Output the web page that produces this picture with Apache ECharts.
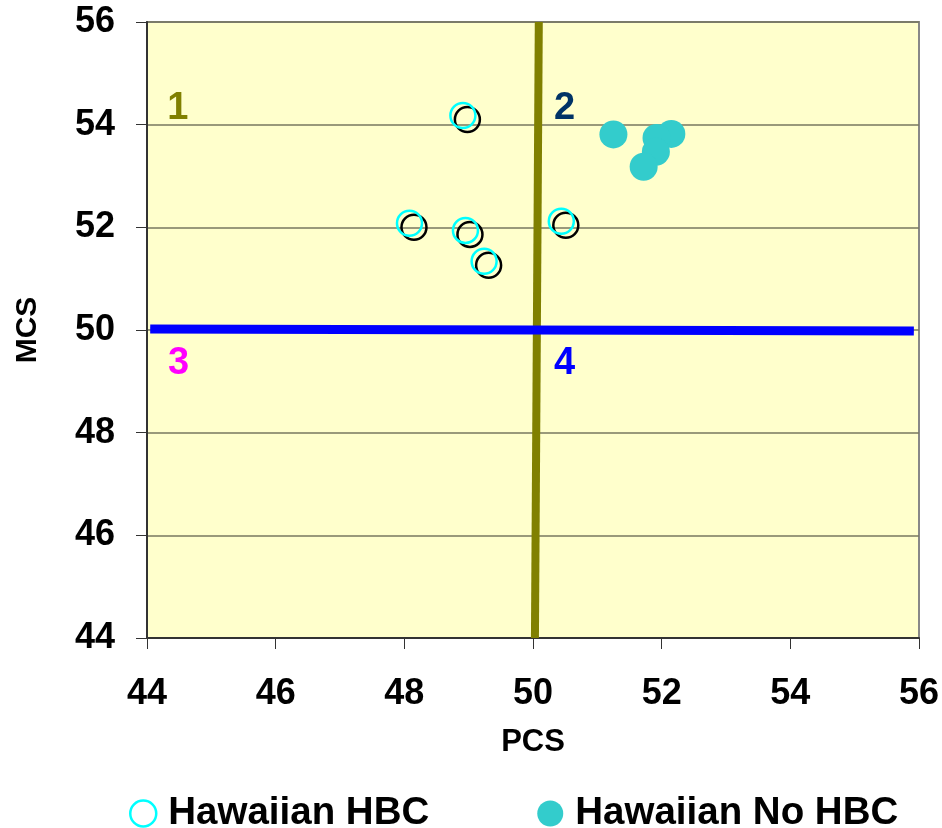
<!DOCTYPE html>
<html>
<head>
<meta charset="utf-8">
<script src="https://cdn.jsdelivr.net/npm/echarts@6/dist/echarts.min.js"></script>
<style>html,body{margin:0;padding:0;background:#fff}#c{width:942px;height:828px}</style>
</head>
<body>
<div id="c"></div>
<script>
// Data
const xTicks = [44, 46, 48, 50, 52, 54, 56];
const yTicks = [44, 46, 48, 50, 52, 54, 56];
const hbcPoints = [[48.91, 54.18], [48.08, 52.08], [48.95, 51.94], [49.24, 51.34], [50.44, 52.12]];
const noHbcPoints = [[51.25, 53.81], [52.15, 53.82], [51.92, 53.74], [51.91, 53.47], [51.72, 53.18]];
const pcsLine = [[50.09, 56], [50.03, 44]];
const mcsLine = [[44.05, 50.02], [55.92, 49.98]];
const quadrantLabels = [
  { name: '1', value: [44.48, 54.32], color: '#808000' },
  { name: '2', value: [50.49, 54.32], color: '#003366' },
  { name: '3', value: [44.49, 49.34], color: '#FF00FF' },
  { name: '4', value: [50.49, 49.34], color: '#0000FF' }
];
const seriesNames = ['Hawaiian HBC', 'Hawaiian No HBC'];

const FONT = 'Arial, "Liberation Sans", sans-serif';
const chart = echarts.init(document.getElementById('c'), null, { renderer: 'canvas' });
chart.setOption({
  animation: false,
  backgroundColor: '#ffffff',
  grid: {
    left: 147, top: 22, right: 23, bottom: 190, containLabel: false, outerBoundsMode: 'none',
    show: true, backgroundColor: '#FFFFCC', borderColor: '#888888', borderWidth: 2
  },
  xAxis: {
    type: 'value', min: xTicks[0], max: xTicks[xTicks.length - 1], interval: 2,
    name: 'PCS', nameLocation: 'middle', nameGap: 89,
    nameTextStyle: { fontFamily: FONT, fontWeight: 'bold', fontSize: 31, color: '#000' },
    axisLine: { show: true, lineStyle: { color: '#333', width: 2 } },
    axisTick: { show: true, length: 11, lineStyle: { color: '#333', width: 1 } },
    axisLabel: { margin: 38, fontFamily: FONT, fontWeight: 'bold', fontSize: 36, color: '#000' },
    splitLine: { show: false }
  },
  yAxis: {
    type: 'value', min: yTicks[0], max: yTicks[yTicks.length - 1], interval: 2,
    name: 'MCS', nameLocation: 'middle', nameGap: 104, nameRotate: 90,
    nameTextStyle: { fontFamily: FONT, fontWeight: 'bold', fontSize: 30, color: '#000' },
    axisLine: { show: true, lineStyle: { color: '#333', width: 2 } },
    axisTick: { show: true, length: 11, lineStyle: { color: '#333', width: 1 } },
    axisLabel: { margin: 32, fontFamily: FONT, fontWeight: 'bold', fontSize: 36, color: '#000' },
    splitLine: { show: true, lineStyle: { color: '#77775f', width: 1.5 } }
  },
  legend: {
    left: 124, top: 789, itemWidth: 26, itemHeight: 26, itemGap: 108,
    textStyle: { fontFamily: FONT, fontWeight: 'bold', fontSize: 38.5, color: '#000', padding: [0, 0, 0, 7] },
    data: [
      { name: seriesNames[0], icon: 'circle', itemStyle: { color: 'rgba(0,0,0,0)', borderColor: '#00FFFF', borderWidth: 2.5, opacity: 1 } },
      { name: seriesNames[1], icon: 'circle', itemStyle: { color: '#33CCCC', borderWidth: 0, opacity: 1 } }
    ]
  },
  series: [
    {
      type: 'line', name: 'pcsRef', data: pcsLine, symbol: 'none', silent: true,
      lineStyle: { color: '#808000', width: 8 }, z: 2
    },
    {
      type: 'line', name: 'mcsRef', data: mcsLine, symbol: 'none', silent: true,
      lineStyle: { color: '#0000FF', width: 9 }, z: 3
    },
    {
      type: 'scatter', name: 'labels', silent: true, symbolSize: 0, z: 4,
      itemStyle: { opacity: 1 },
      data: quadrantLabels.map(d => ({ name: d.name, value: d.value,
        label: { show: true, position: 'inside', formatter: '{b}', color: d.color,
                 fontFamily: FONT, fontWeight: 'bold', fontSize: 38 } }))
    },
    {
      type: 'scatter', name: 'hbcShadow', data: hbcPoints, symbol: 'circle', symbolSize: 25,
      symbolOffset: [4.5, 4], silent: true, z: 5,
      itemStyle: { color: 'rgba(0,0,0,0)', borderColor: '#000000', borderWidth: 2.5, opacity: 1 }
    },
    {
      type: 'scatter', name: seriesNames[0], data: hbcPoints, symbol: 'circle', symbolSize: 25, z: 6,
      itemStyle: { color: 'rgba(0,0,0,0)', borderColor: '#00FFFF', borderWidth: 2.5, opacity: 1 }
    },
    {
      type: 'scatter', name: seriesNames[1], data: noHbcPoints, symbol: 'circle', symbolSize: 28, z: 6,
      itemStyle: { color: '#33CCCC', opacity: 1 }
    }
  ]
});
</script>
</body>
</html>
